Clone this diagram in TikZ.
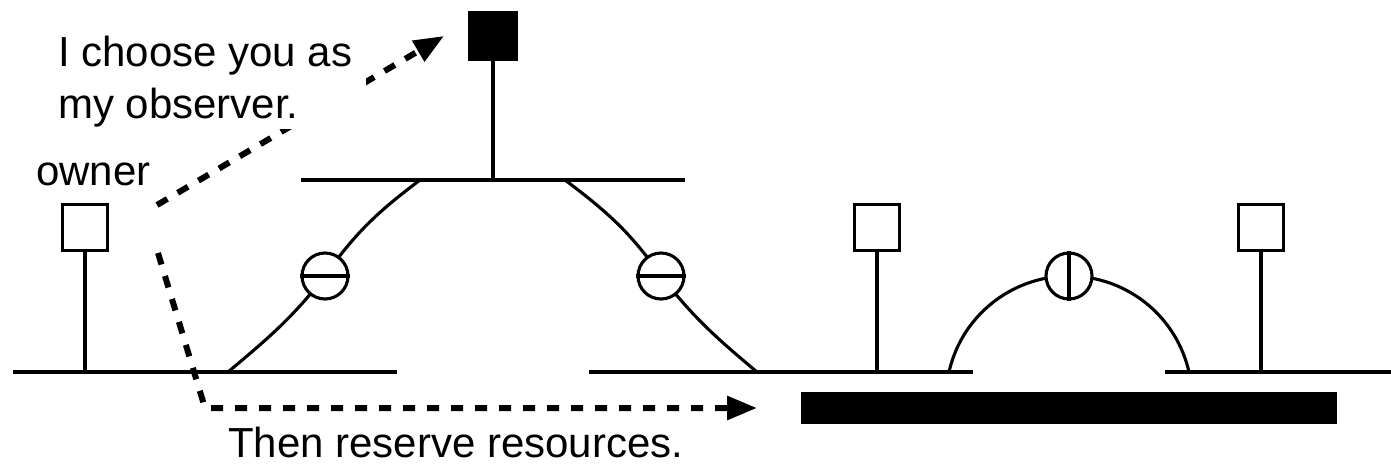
\documentclass[tikz,border=0pt]{standalone}
\usepackage{fontspec}
\setmainfont{Liberation Sans}
\usetikzlibrary{arrows.meta}
\begin{document}
\begin{tikzpicture}[x=1pt,y=1pt,
  wire/.style={line width=3.1pt},
  station/.style={draw, line width=3.1pt, fill=white, minimum size=45.5pt, inner sep=0pt},
  bridge/.style={draw, circle, line width=3.1pt, fill=white, minimum size=46pt, inner sep=0pt},
  msg/.style={line width=6pt, dash pattern=on 12pt off 12pt, -{Triangle[length=30pt,width=23pt]}},
  lbl/.style={font=\fontsize{42}{52}\selectfont, inner sep=0pt}]

\useasboundingbox (0,0) rectangle (1391,-464);

% LAN segments
\coordinate (b1w) at (13,-372);   \coordinate (b1e) at (397,-372);
\coordinate (b2w) at (589,-372);  \coordinate (b2e) at (973,-372);
\coordinate (b3w) at (1165,-372); \coordinate (b3e) at (1391,-372);
\coordinate (tw)  at (301,-180);  \coordinate (te)  at (685,-180);
\draw[wire] (b1w) -- (b1e);
\draw[wire] (b2w) -- (b2e);
\draw[wire] (b3w) -- (b3e);
\draw[wire] (tw) -- (te);

% end stations
\node[station] (own) at (85,-227.5) {};
\node[station] (s2) at (877,-227.5) {};
\node[station] (s3) at (1261,-227.5) {};
\node[fill=black, minimum size=50pt, inner sep=0pt] (obs) at (493,-36) {};
\draw[wire] (own.south) -- (own.south |- b1w);
\draw[wire] (s2.south) -- (s2.south |- b2w);
\draw[wire] (s3.south) -- (s3.south |- b3w);
\draw[wire] (obs.south) -- (obs.south |- tw);

% links through the bridges
\coordinate (p1) at (325,-276);
\coordinate (p2) at (661,-276);
\coordinate (p3) at (1069,-276);
\coordinate (lfoot) at (228,-372); \coordinate (ltop) at (420,-180);
\coordinate (rtop) at (565,-180);  \coordinate (rfoot) at (757,-372);
\coordinate (afoot) at (949,-372); \coordinate (bfoot) at (1189,-372);
\draw[wire] (lfoot) to[out=40,in=232] (p1) to[out=55,in=217] (ltop);
\draw[wire] (rtop) to[out=-37,in=125] (p2) to[out=-52,in=140] (rfoot);
\draw[wire] (afoot) arc[start angle=167.3, end angle=12.7, radius=123];

\node[bridge] (c1) at (p1) {};
\node[bridge] (c2) at (p2) {};
\node[bridge] (c3) at (p3) {};
\draw[wire] (c1.west) -- (c1.east);
\draw[wire] (c2.west) -- (c2.east);
\draw[wire] (c3.north) -- (c3.south);

% reserved resources
\node[fill=black, minimum width=536pt, minimum height=32pt, inner sep=0pt, anchor=north west] (res) at (801,-392) {};

% messages from the owner
\coordinate (m1) at (157,-205);
\coordinate (aimobs) at (444,-36);
\coordinate (m2) at (158,-253);
\coordinate (turn) at (205,-408);
\coordinate (aimbar) at (757,-408);
\draw[msg] (m1) -- (aimobs);
\draw[msg] (m2) -- (turn) -- (aimbar);

% labels
\node[lbl, fill=white, inner xsep=14pt, inner ysep=2pt, align=left, anchor=north west] (say1) at (44,-34) {I choose you as\\my observer.};
\node[lbl, anchor=base west] (ownlbl) at (36,-185) {owner};
\node[lbl, anchor=base west] (say2) at (228,-457) {Then reserve resources.};
\end{tikzpicture}
\end{document}
